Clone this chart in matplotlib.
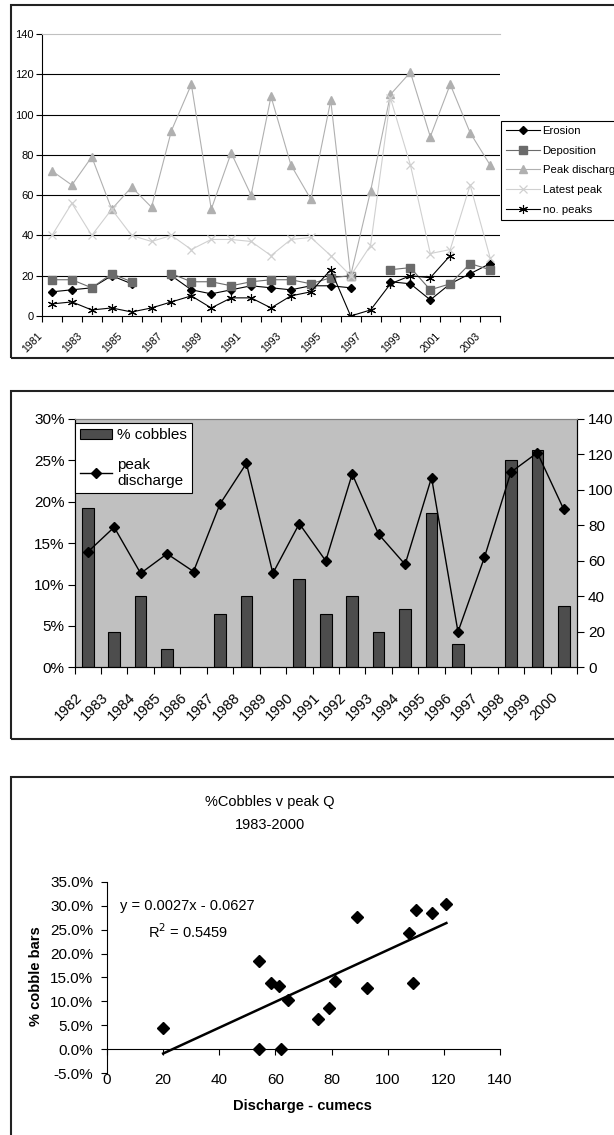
import numpy as np
import matplotlib
matplotlib.use("Agg")
import matplotlib.pyplot as plt
import matplotlib.transforms as mtransforms
from matplotlib.patches import Rectangle
from matplotlib.ticker import PercentFormatter

plt.rcParams['font.family'] = ['Liberation Sans', 'DejaVu Sans']
plt.rcParams['axes.unicode_minus'] = False

nan = np.nan

# --- top chart: yearly series 1981-2003
years_top = list(range(1981, 2004))
erosion = [12, 13, 14, 20, 16, nan, 20, 13, 11, 13, 15, 14, 13, 15, 15, 14, nan, 17, 16, 8, 16, 21, 26]
deposition = [18, 18, 14, 21, 17, nan, 21, 17, 17, 15, 17, 18, 18, 16, 19, 20, nan, 23, 24, 13, 16, 26, 23]
peak_q = [72, 65, 79, 53, 64, 54, 92, 115, 53, 81, 60, 109, 75, 58, 107, 20, 62, 110, 121, 89, 115, 91, 75]
latest_peak = [40, 56, 40, 53, 40, 37, 40, 33, 38, 38, 37, 30, 38, 39, 30, 20, 35, 108, 75, 31, 33, 65, 29]
n_peaks = [6, 7, 3, 4, 2, 4, 7, 10, 4, 9, 9, 4, 10, 12, 23, 0, 3, 16, 20, 19, 30, nan, nan]

# --- middle chart: 1982-2000
years_mid = list(range(1982, 2001))
cobbles = [0.192, 0.043, 0.086, 0.022, 0, 0.064, 0.086, 0, 0.107, 0.064,
           0.086, 0.043, 0.071, 0.187, 0.028, 0, 0.250, 0.263, 0.074]
peak_mid = [65, 79, 53, 64, 54, 92, 115, 53, 81, 60, 109, 75, 58, 107, 20, 62, 110, 121, 89]

# --- bottom chart: scatter
discharge = [20, 54, 54.2, 58.4, 61.2, 62, 64.5, 75.3, 79.2, 81.3, 89.2, 92.7,
             107.5, 109.1, 110, 115.7, 120.9]
cobble_bars = [0.045, 0.185, 0.0, 0.139, 0.132, 0.0, 0.103, 0.064, 0.087, 0.142,
               0.277, 0.129, 0.242, 0.139, 0.291, 0.284, 0.303]
slope, intercept = 0.0027, -0.0627

W, H = 614, 1135
fig = plt.figure(figsize=(W / 100, H / 100), dpi=100)


def box(left, top, right, bottom):
    return [left / W, 1 - bottom / H, (right - left) / W, (bottom - top) / H]


def frame(left, top, right, bottom):
    fig.patches.append(Rectangle((left / W, 1 - bottom / H), (right - left) / W, (bottom - top) / H,
                                 transform=fig.transFigure, fill=False, edgecolor='#222222',
                                 lw=1.5, clip_on=False))


frame(11, 5, 700, 358)
frame(11, 391, 700, 739)
frame(11, 777, 700, 1300)

# ---------------- top chart
ax = fig.add_axes(box(42, 34, 500, 316))
x = np.arange(len(years_top))
for v in range(20, 140, 20):
    ax.axhline(v, color='black', lw=0.8, zorder=1)
ax.plot(x, erosion, color='black', marker='D', ms=4.5, lw=0.8, label='Erosion', zorder=3)
ax.plot(x, deposition, color='#6b6b6b', marker='s', ms=5.5, lw=0.8, label='Deposition', zorder=3)
ax.plot(x, peak_q, color='#b0b0b0', marker='^', ms=5.5, lw=0.8, label='Peak discharge', zorder=3)
ax.plot(x, latest_peak, color='#d0d0d0', marker='x', ms=5.5, mew=0.9, lw=0.8, label='Latest peak', zorder=3)
ax.plot(x, n_peaks, color='black', marker=(6, 2, 0), ms=6.5, mew=0.8, lw=0.8, label='no. peaks', zorder=3)
ax.set_xlim(-0.5, len(years_top) - 0.5)
ax.set_ylim(0, 140)
ax.set_yticks(range(0, 141, 20))
ax.tick_params(axis='y', labelsize=8, length=4, width=0.8, direction='out', pad=2)
ax.set_xticks(x[::2])
ax.set_xticklabels([str(y) for y in years_top[::2]], rotation=45, ha='right', va='center',
                   rotation_mode='anchor', fontsize=7.5)
ax.set_xticks(np.arange(-0.5, len(years_top)), minor=True)
ax.tick_params(axis='x', which='major', length=0, pad=13)
ax.tick_params(axis='x', which='minor', length=4, width=0.8, direction='out')
off = mtransforms.ScaledTranslation(-0.11, 0, fig.dpi_scale_trans)
for lbl in ax.get_xticklabels():
    lbl.set_transform(lbl.get_transform() + off)
ax.spines['right'].set_visible(False)
ax.spines['top'].set_color('#c0c0c0')
for s in ('left', 'bottom'):
    ax.spines[s].set_linewidth(0.8)
fig.legend(loc='upper left', bbox_to_anchor=(501 / W, 1 - 121 / H), fontsize=8.2,
           frameon=True, fancybox=False, edgecolor='black', framealpha=1,
           handlelength=3.0, handletextpad=0.2, labelspacing=0.85, borderpad=0.45,
           borderaxespad=0).get_frame().set_linewidth(0.8)

# ---------------- middle chart
ax = fig.add_axes(box(74.5, 419, 577, 667.3))
ax.set_facecolor('#c0c0c0')
xm = np.arange(len(years_mid))
bars = ax.bar(xm, cobbles, width=0.44, color='#4d4d4d', edgecolor='black', lw=0.8, label='% cobbles')
ax.set_xlim(-0.5, len(years_mid) - 0.5)
ax.set_ylim(0, 0.30)
ax.set_yticks(np.arange(0, 0.31, 0.05))
ax.yaxis.set_major_formatter(PercentFormatter(1, decimals=0))
ax.tick_params(axis='y', labelsize=11, length=5, width=0.8, pad=2)
ax.set_xticks(xm)
ax.set_xticklabels([str(y) for y in years_mid], rotation=45, ha='right', va='center',
                   rotation_mode='anchor', fontsize=10.5)
ax.set_xticks(np.arange(-0.5, len(years_mid)), minor=True)
ax.tick_params(axis='x', which='major', length=0, pad=20)
ax.tick_params(axis='x', which='minor', length=5, width=0.8, direction='out')
off = mtransforms.ScaledTranslation(-0.08, 0, fig.dpi_scale_trans)
for lbl in ax.get_xticklabels():
    lbl.set_transform(lbl.get_transform() + off)
ax.spines['top'].set_color('#808080')
ax2 = ax.twinx()
ax2.plot(xm, peak_mid, color='black', marker='D', ms=5, lw=1, label='peak\ndischarge')
ax2.set_ylim(0, 140)
ax2.set_yticks(range(0, 141, 20))
ax2.tick_params(axis='y', labelsize=11, length=5, width=0.8, pad=3)
ax2.spines['top'].set_color('#808080')
for a in (ax, ax2):
    for s in ('left', 'right', 'bottom'):
        a.spines[s].set_linewidth(0.8)
h1, l1 = ax.get_legend_handles_labels()
h2, l2 = ax2.get_legend_handles_labels()
leg = ax2.legend(h1 + h2, l1 + l2, loc='upper left', bbox_to_anchor=(75 / W, 1 - 423 / H),
                 bbox_transform=fig.transFigure, fontsize=11, frameon=True, fancybox=False,
                 edgecolor='black', framealpha=1, handlelength=2.1, handletextpad=0.3,
                 labelspacing=1.0, borderpad=0.35, borderaxespad=0)
leg.get_frame().set_linewidth(0.8)

# ---------------- bottom chart
ax = fig.add_axes(box(107, 881.7, 500, 1073.3))
ax.plot(discharge, cobble_bars, linestyle='none', marker='D', ms=6, color='black')
xt = np.array([min(discharge), max(discharge)])
ax.plot(xt, slope * xt + intercept, color='black', lw=1.8)
ax.set_xlim(0, 140)
ax.set_ylim(-0.05, 0.35)
ax.set_yticks(np.arange(-0.05, 0.351, 0.05))
ax.yaxis.set_major_formatter(PercentFormatter(1, decimals=1))
ax.set_xticks(range(0, 141, 20))
ax.spines['bottom'].set_position(('data', 0))
ax.spines['top'].set_visible(False)
ax.spines['right'].set_visible(False)
for s in ('left', 'bottom'):
    ax.spines[s].set_linewidth(0.8)
ax.tick_params(axis='y', labelsize=11, length=4, width=0.8, pad=6)
ax.tick_params(axis='x', labelsize=11, length=4, width=0.8, pad=13)

fig.text(270 / W, 1 - 802 / H, '%Cobbles v peak Q', ha='center', va='center', fontsize=10.5)
fig.text(270 / W, 1 - 825 / H, '1983-2000', ha='center', va='center', fontsize=10.5)
fig.text(120 / W, 1 - 906 / H, 'y = 0.0027x - 0.0627', ha='left', va='center', fontsize=10.5)
fig.text(148 / W, 1 - 932 / H, 'R$^2$ = 0.5459', ha='left', va='center', fontsize=10.5)
fig.text(36 / W, 1 - 976 / H, '% cobble bars', ha='center', va='center', rotation=90,
         fontsize=10.5, fontweight='bold')
fig.text(302 / W, 1 - 1106 / H, 'Discharge - cumecs', ha='center', va='center',
         fontsize=10.5, fontweight='bold')

fig.savefig('out.png', dpi=100)
